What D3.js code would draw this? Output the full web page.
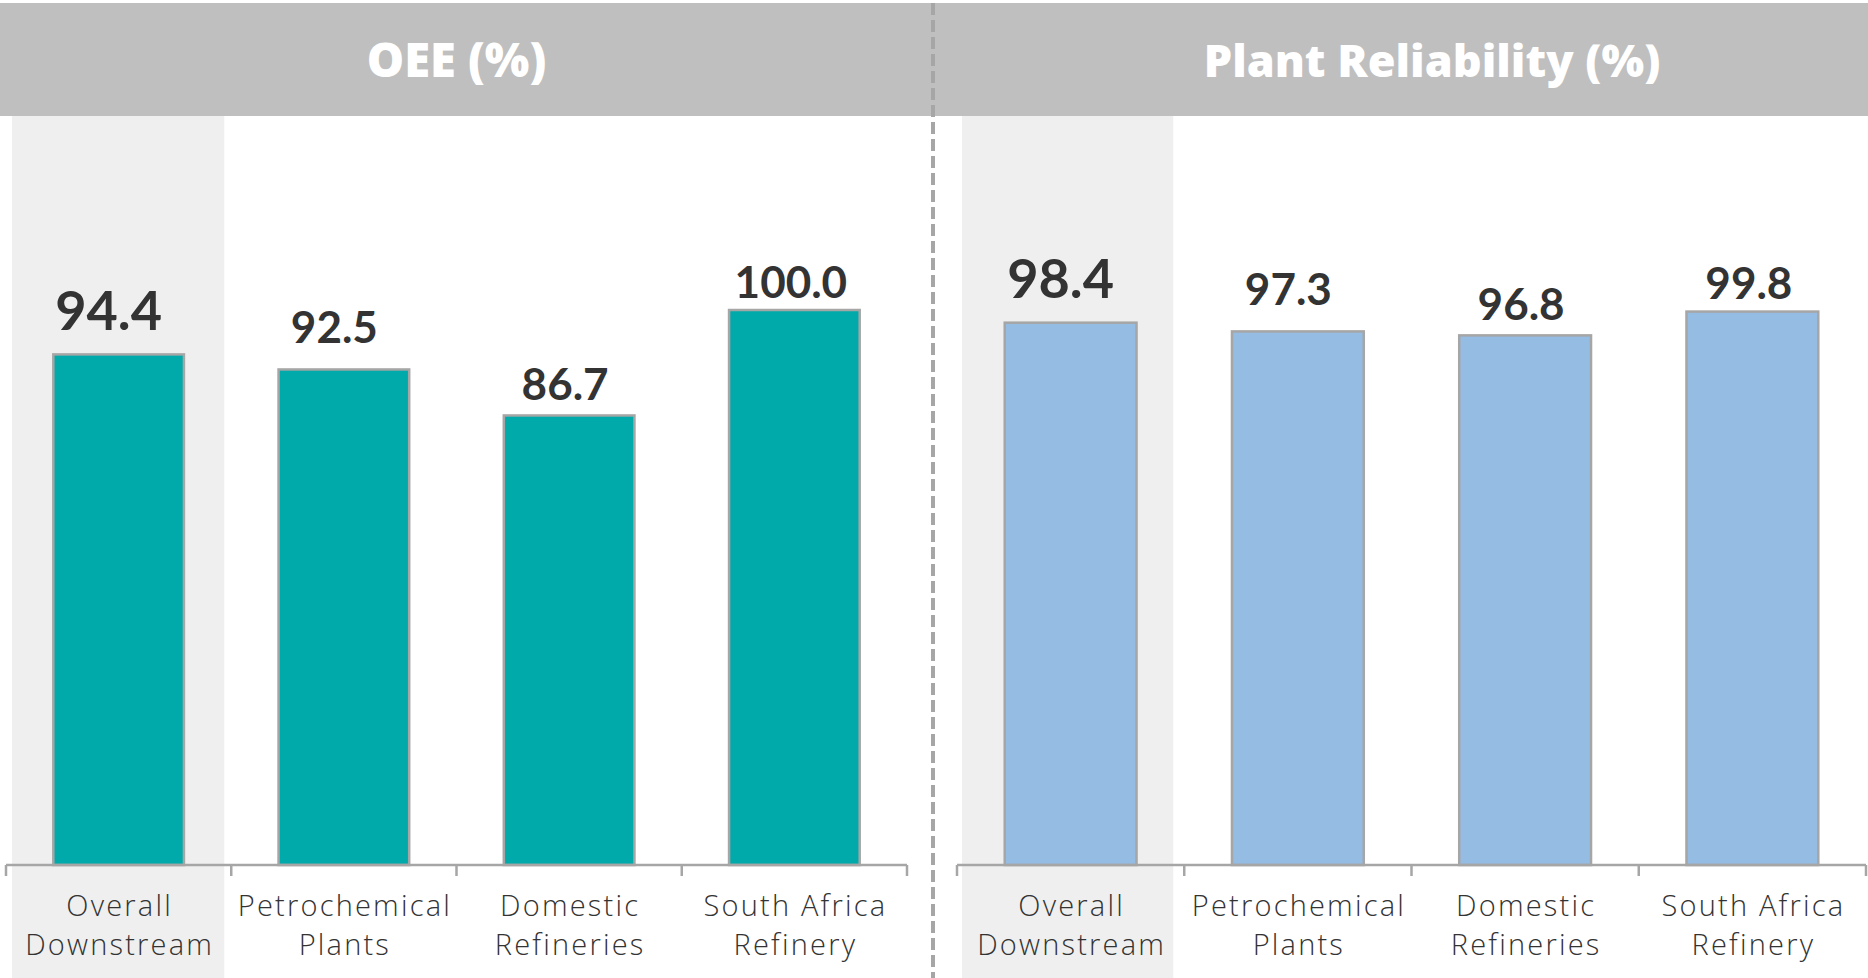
<!DOCTYPE html>
<html>
<head>
<meta charset="utf-8">
<script src="https://cdn.jsdelivr.net/npm/d3@7"></script>
<style>
  html, body { margin: 0; padding: 0; background: #ffffff; }
  svg { display: block; }
</style>
</head>
<body>
<svg id="chart" width="1868" height="978"></svg>
<script>
// Categories shared by both panels
const categories = [
  ["Overall", "Downstream"],
  ["Petrochemical", "Plants"],
  ["Domestic", "Refineries"],
  ["South Africa", "Refinery"]
];
const categoryKeys = categories.map(c => c.join(" "));

// Panel titles and values
const oeeTitle = "OEE (%)";
const oeeValues = [94.4, 92.5, 86.7, 100.0];
const reliabilityTitle = "Plant Reliability (%)";
const reliabilityValues = [98.4, 97.3, 96.8, 99.8];

// Layout
const W = 1868, H = 978;
const header = { y: 3, h: 113, fill: "#bfbfbf" };
const baseY = 865, topY = 310;
const yDomain = [30, 100];
const panels = [
  { title: oeeTitle, values: oeeValues, x0: 6, x1: 907, titleX: 456.5, titleSize: 47, fill: "#00aaaa", hlInset: [6, 7] },
  { title: reliabilityTitle, values: reliabilityValues, x0: 957, x1: 1866, titleX: 1432, titleSize: 45, fill: "#95bce3", hlInset: [5, 11] }
];
// Per-category nudges of the value labels (dx, gap above bar)
const labelDx = [-10, -9.5, -4, -3.5];
const labelGap = [24.5, 26.4, 15, 12.5];

const svg = d3.select("#chart");
const fontValue = "Lato, 'Open Sans', 'DejaVu Sans', sans-serif";
const fontWide = "'Open Sans', Lato, 'DejaVu Sans', sans-serif";

const y = d3.scaleLinear().domain(yDomain).range([baseY, topY]);

// Header band
svg.append("rect")
  .attr("x", 0).attr("y", header.y)
  .attr("width", W).attr("height", header.h)
  .attr("fill", header.fill);

panels.forEach(p => {
  const xBand = d3.scaleBand().domain(categoryKeys).range([p.x0, p.x1]).padding(0);
  const xBar = d3.scaleBand().domain(categoryKeys).range([p.x0, p.x1])
    .paddingInner(0.42).paddingOuter(0.21);

  const g = svg.append("g");

  // Highlight behind the first category
  g.append("rect")
    .attr("x", xBand(categoryKeys[0]) + p.hlInset[0])
    .attr("y", header.y + header.h)
    .attr("width", xBand.bandwidth() - p.hlInset[0] - p.hlInset[1])
    .attr("height", H - header.y - header.h)
    .attr("fill", "#efefef");

  // Title
  svg.append("text")
    .attr("x", p.titleX).attr("y", 77)
    .attr("text-anchor", "middle")
    .attr("font-family", fontWide)
    .attr("font-weight", 800)
    .attr("font-size", p.titleSize)
    .attr("fill", "#ffffff")
    .text(p.title);

  // Bars
  g.selectAll("rect.bar")
    .data(p.values)
    .join("rect")
    .attr("class", "bar")
    .attr("x", (d, i) => xBar(categoryKeys[i]))
    .attr("y", d => y(d))
    .attr("width", xBar.bandwidth())
    .attr("height", d => baseY - y(d))
    .attr("fill", p.fill)
    .attr("stroke", "#a6a6a6")
    .attr("stroke-width", 2.5);

  // Value labels
  g.selectAll("text.value")
    .data(p.values)
    .join("text")
    .attr("class", "value")
    .attr("x", (d, i) => xBar(categoryKeys[i]) + xBar.bandwidth() / 2 + labelDx[i])
    .attr("y", (d, i) => y(d) - labelGap[i])
    .attr("text-anchor", "middle")
    .attr("font-family", fontValue)
    .attr("font-weight", 700)
    .attr("font-size", (d, i) => i === 0 ? 54 : 44)
    .attr("fill", "#333333")
    .text(d => d.toFixed(1));

  // Category axis
  const axis = d3.axisBottom(xBand).tickSize(0).tickFormat("");
  const ag = g.append("g").attr("transform", `translate(0,${baseY})`).call(axis);
  ag.select(".domain").attr("stroke", "#a6a6a6").attr("stroke-width", 2.5)
    .attr("d", `M${p.x0},0H${p.x1}`);
  const edges = categoryKeys.map(k => xBand(k)).concat([p.x1]);
  ag.selectAll("line.edge")
    .data(edges)
    .join("line")
    .attr("class", "edge")
    .attr("x1", d => d).attr("x2", d => d)
    .attr("y1", 0).attr("y2", 11)
    .attr("stroke", "#a6a6a6").attr("stroke-width", 2.5);

  // Two-line category labels
  const lbl = g.selectAll("text.cat")
    .data(categories)
    .join("text")
    .attr("class", "cat")
    .attr("text-anchor", "middle")
    .attr("font-family", fontWide)
    .attr("font-weight", 300)
    .attr("font-size", 29)
    .attr("letter-spacing", 2.2)
    .attr("fill", "#333333");
  lbl.each(function(lines, i) {
    const cx = xBand(categoryKeys[i]) + xBand.bandwidth() / 2 + 1;
    d3.select(this).selectAll("tspan")
      .data(lines)
      .join("tspan")
      .attr("x", cx)
      .attr("y", (l, j) => 916 + j * 39)
      .text(l => l);
  });
});

// Dashed divider between the panels
svg.append("line")
  .attr("x1", 933).attr("x2", 933)
  .attr("y1", header.y).attr("y2", H)
  .attr("stroke", "#a6a6a6")
  .attr("stroke-width", 4)
  .attr("stroke-dasharray", "12 5");
</script>
</body>
</html>
